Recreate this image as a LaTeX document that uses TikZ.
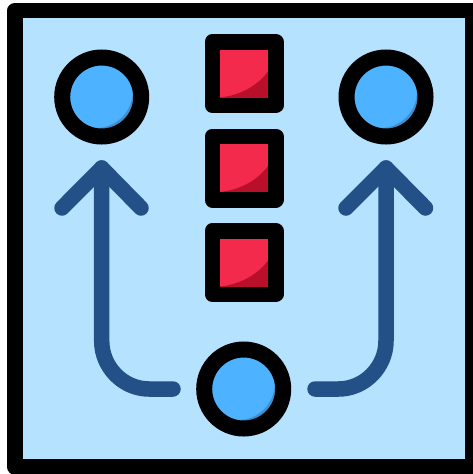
\documentclass[tikz,border=0pt]{standalone}
\definecolor{panel}{HTML}{B5E3FF}
\definecolor{edgeblue}{HTML}{235087}
\definecolor{dotblue}{HTML}{4DB2FF}
\definecolor{dotshade}{HTML}{3E8FD0}
\definecolor{boxred}{HTML}{F42A4C}
\definecolor{boxshade}{HTML}{B80F2B}
\tikzset{
  frame/.style={draw=black,fill=panel,line width=15.5pt,line join=round},
  dot/.style={circle,draw=black,fill=dotblue,line width=16pt,minimum size=79pt,inner sep=0pt,outer sep=0pt,
    path picture={
      \fill[dotshade,even odd rule] (path picture bounding box.center) circle[radius=33pt]
        ([xshift=-5.5pt,yshift=5.5pt]path picture bounding box.center) circle[radius=36.5pt];
    }},
  box/.style={rectangle,draw=black,fill=boxred,line width=15.5pt,line join=round,minimum size=63.5pt,inner sep=0pt,outer sep=0pt,
    path picture={
      \fill[boxshade] ([xshift=-24pt,yshift=-24pt]path picture bounding box.center)
        .. controls ([xshift=-4pt,yshift=-22pt]path picture bounding box.center)
        and ([xshift=14pt,yshift=-12pt]path picture bounding box.center)
        .. ([xshift=24pt,yshift=2pt]path picture bounding box.center)
        -- ([xshift=24pt,yshift=-26pt]path picture bounding box.center)
        -- ([xshift=-24pt,yshift=-26pt]path picture bounding box.center) -- cycle;
    }},
  flow/.style={draw=edgeblue,line width=15.5pt,line cap=round,line join=round}
}
\begin{document}
\begin{tikzpicture}[x=1pt,y=-1pt]
\useasboundingbox (0,0) rectangle (472,474);
\fill[white] (0,0) rectangle (472,474);
\coordinate (fa) at (15,10.5);
\coordinate (fb) at (472.75,466.75);
\path[frame] (fa) rectangle (fb);
\node[dot] (tl) at (101.7,97) {};
\node[dot] (tr) at (386,97) {};
\node[dot] (bc) at (243.7,389) {};
\node[box] (b1) at (244,73.5) {};
\node[box] (b2) at (244,168) {};
\node[box] (b3) at (244,262.5) {};
% left arrow
\coordinate (ltip) at (101.7,168);
\coordinate (lhl) at (62,208);
\coordinate (lhr) at (141,208);
\coordinate (lbend) at (101.7,341);
\coordinate (lcurve) at (149,389);
\coordinate (lend) at (173,389);
\path[flow] (lend) -- (lcurve) .. controls (123,389) and (101.7,367) .. (lbend) -- (ltip);
\path[flow] (lhl) -- (ltip) -- (lhr);
% right arrow
\coordinate (rtip) at (386,168);
\coordinate (rhl) at (346,208);
\coordinate (rhr) at (425.5,208);
\coordinate (rbend) at (386,341);
\coordinate (rcurve) at (338.5,389);
\coordinate (rend) at (315,389);
\path[flow] (rend) -- (rcurve) .. controls (364.5,389) and (386,367) .. (rbend) -- (rtip);
\path[flow] (rhl) -- (rtip) -- (rhr);
\end{tikzpicture}
\end{document}
